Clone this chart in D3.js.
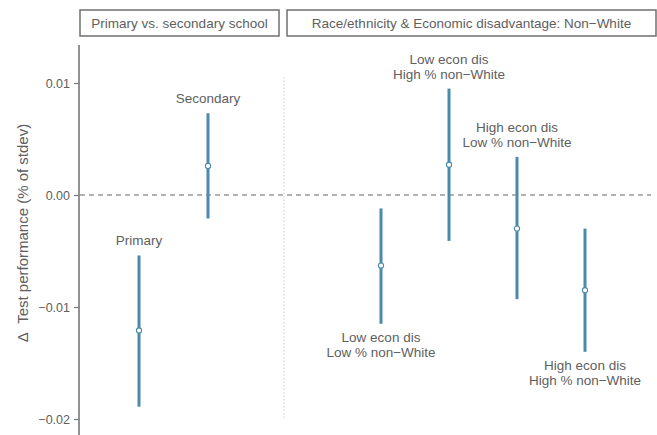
<!DOCTYPE html>
<html>
<head>
<meta charset="utf-8">
<script src="https://cdn.jsdelivr.net/npm/d3@7"></script>
<style>
  html, body { margin: 0; padding: 0; background: #fff; }
  svg { display: block; font-family: "Liberation Sans", Arial, sans-serif; }
</style>
</head>
<body>
<svg id="chart" width="657" height="435"></svg>
<script>
// Panel titles
const panelTitles = ["Primary vs. secondary school", "Race/ethnicity & Economic disadvantage: Non\u2212White"];

// Left panel: school level
const schoolGroups = ["Primary", "Secondary"];
const schoolEst    = [-0.0121, 0.0026];
const schoolLow    = [-0.0189, -0.0021];
const schoolHigh   = [-0.0054, 0.0073];

// Right panel: economic disadvantage x share of non-White students
const raceGroups = [
  ["Low econ dis", "Low % non\u2212White"],
  ["Low econ dis", "High % non\u2212White"],
  ["High econ dis", "Low % non\u2212White"],
  ["High econ dis", "High % non\u2212White"]
];
const raceEst  = [-0.0063, 0.0027, -0.0030, -0.0085];
const raceLow  = [-0.0115, -0.0041, -0.0093, -0.0140];
const raceHigh = [-0.0012, 0.0095, 0.0034, -0.0030];
// label sits above (+1) or below (-1) each interval
const raceLabelSide = [-1, 1, 1, -1];

const yTicks = [-0.02, -0.01, 0.00, 0.01];
const yTitle = "\u0394\u00a0 Test performance (% of stdev)";

const svg = d3.select("#chart");
const ink = "#606060";
const barColor = "#4a8bad";
const fontSize = 13.5;

const y = d3.scaleLinear().domain([-0.02, 0.01]).range([419, 83]);

// y axis
const yAxis = d3.axisLeft(y)
  .tickValues(yTicks)
  .tickSizeInner(5)
  .tickSizeOuter(0)
  .tickPadding(4)
  .tickFormat(d => d3.format(".2f")(d).replace("-", "\u2212"));
const gy = svg.append("g").attr("transform", "translate(79,0)").call(yAxis);
gy.select(".domain").remove();
gy.append("line")
  .attr("x1", 0).attr("x2", 0)
  .attr("y1", 45).attr("y2", 435)
  .attr("stroke", "#777").attr("stroke-width", 1.6);
gy.selectAll(".tick line").attr("stroke", "#777").attr("stroke-width", 1.2);
gy.selectAll(".tick text")
  .attr("fill", ink)
  .style("font-size", "12.5px")
  .style("font-family", "'Liberation Sans', Arial, sans-serif");

// y title
svg.append("text")
  .attr("transform", "translate(28,233) rotate(-90)")
  .attr("text-anchor", "middle")
  .attr("fill", ink)
  .style("font-size", "15px")
  .text(yTitle);

// Strip headers
const strips = [
  { x0: 80, x1: 279, title: panelTitles[0] },
  { x0: 287, x1: 656, title: panelTitles[1] }
];
strips.forEach(s => {
  svg.append("rect")
    .attr("x", s.x0).attr("y", 10)
    .attr("width", s.x1 - s.x0).attr("height", 26)
    .attr("fill", "#fff").attr("stroke", "#707070").attr("stroke-width", 1.5);
  svg.append("text")
    .attr("x", (s.x0 + s.x1) / 2).attr("y", 28)
    .attr("text-anchor", "middle")
    .attr("fill", ink)
    .style("font-size", "13.5px")
    .text(s.title);
});

// Panel separator (dotted)
svg.append("line")
  .attr("x1", 284).attr("x2", 284)
  .attr("y1", 77).attr("y2", 420)
  .attr("stroke", "#c8c8c8").attr("stroke-width", 1)
  .attr("stroke-dasharray", "1.5,2");

// Zero reference line
svg.append("line")
  .attr("x1", 80).attr("x2", 651)
  .attr("y1", y(0)).attr("y2", y(0))
  .attr("stroke", "#666").attr("stroke-width", 1)
  .attr("stroke-dasharray", "5,4");

// x positions per panel
const xLeft  = d3.scalePoint().domain(schoolGroups).range([139, 208]);
const xRight = d3.scalePoint().domain(d3.range(raceGroups.length)).range([381, 585]);

const leftData = schoolGroups.map((g, i) => ({
  x: xLeft(g), est: schoolEst[i], lo: schoolLow[i], hi: schoolHigh[i], lines: [g], side: 1
}));
const rightData = raceGroups.map((g, i) => ({
  x: xRight(i), est: raceEst[i], lo: raceLow[i], hi: raceHigh[i], lines: g, side: raceLabelSide[i]
}));
const all = leftData.concat(rightData);

// intervals
svg.append("g").selectAll("line")
  .data(all).join("line")
  .attr("x1", d => d.x).attr("x2", d => d.x)
  .attr("y1", d => y(d.lo)).attr("y2", d => y(d.hi))
  .attr("stroke", barColor).attr("stroke-width", 3);

// point estimates
svg.append("g").selectAll("circle")
  .data(all).join("circle")
  .attr("cx", d => d.x).attr("cy", d => y(d.est))
  .attr("r", 2.6)
  .attr("fill", "#fff").attr("stroke", barColor).attr("stroke-width", 1.1);

// labels
const lineH = 15;
const lbl = svg.append("g").selectAll("text")
  .data(all).join("text")
  .attr("text-anchor", "middle")
  .attr("fill", ink)
  .style("font-size", fontSize + "px");
lbl.each(function(d) {
  const n = d.lines.length;
  const firstBase = d.side > 0
    ? y(d.hi) - 10 - (n - 1) * lineH
    : y(d.lo) + 18;
  d3.select(this).selectAll("tspan")
    .data(d.lines).join("tspan")
    .attr("x", d.x)
    .attr("y", (t, j) => firstBase + j * lineH)
    .text(t => t);
});
</script>
</body>
</html>
